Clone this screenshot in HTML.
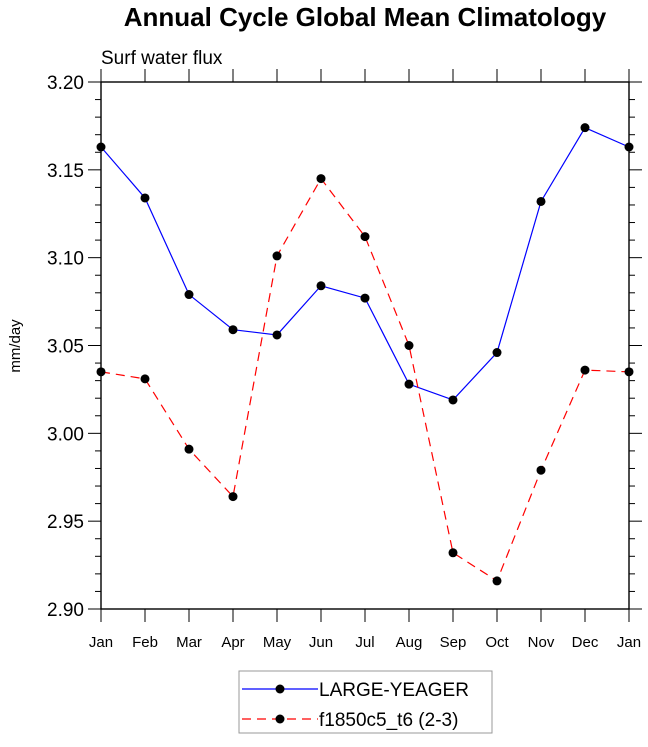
<!DOCTYPE html>
<html><head><meta charset="utf-8"><style>
body{margin:0;background:#fff;}
svg{display:block;font-family:"Liberation Sans",sans-serif;}
</style></head><body>
<svg id="chart" width="648" height="747" viewBox="0 0 648 747">
<text x="365" y="26" font-size="26" font-weight="bold" text-anchor="middle">Annual Cycle Global Mean Climatology</text>
<text x="101" y="64" font-size="19">Surf water flux</text>
<text transform="translate(20,346) rotate(-90)" font-size="15" text-anchor="middle">mm/day</text>
<g id="axes"></g>
<g id="series"></g>
<g>
<rect x="239" y="671" width="253" height="62" fill="none" stroke="#999" stroke-width="1"/>
<line x1="242" y1="689" x2="318" y2="689" stroke="#0000ff" stroke-width="1.2"/>
<circle cx="280" cy="689" r="4.5" fill="#000"/>
<text x="319" y="696" font-size="19">LARGE-YEAGER</text>
<line x1="242" y1="719" x2="318" y2="719" stroke="#ff0000" stroke-width="1.2" stroke-dasharray="9,6"/>
<circle cx="280" cy="719" r="4.5" fill="#000"/>
<text x="319" y="726" font-size="19">f1850c5_t6 (2-3)</text>
</g>
</svg>
<script>
const months = ["Jan","Feb","Mar","Apr","May","Jun","Jul","Aug","Sep","Oct","Nov","Dec","Jan"];
const largeYeager = [3.163,3.134,3.079,3.059,3.056,3.084,3.077,3.028,3.019,3.046,3.132,3.174,3.163];
const f1850 = [3.035,3.031,2.991,2.964,3.101,3.145,3.112,3.050,2.932,2.916,2.979,3.036,3.035];
const yTicks = [2.90,2.95,3.00,3.05,3.10,3.15,3.20];
const yMin = 2.90, yMax = 3.20;
const L=101, R=629, T=82, B=609;
const NS="http://www.w3.org/2000/svg";
const xs = i => L + (R-L)*i/(months.length-1);
const ys = v => B - (B-T)*(v-yMin)/(yMax-yMin);
function mk(tag, attrs, parent){const e=document.createElementNS(NS,tag);for(const k in attrs)e.setAttribute(k,attrs[k]);parent.appendChild(e);return e;}
const ax=document.getElementById('axes');
const frame=mk('rect',{x:L,y:T,width:R-L,height:B-T,fill:'none',stroke:'#000','stroke-width':1.4},ax);


for(let i=0;i<months.length;i++){
  const x=xs(i);
  const t1=mk('line',{x1:x,y1:B,x2:x,y2:B+13,stroke:'#000'},ax);
  
  
  const t2=mk('line',{x1:x,y1:T,x2:x,y2:T-13,stroke:'#000'},ax);
  
  
  const lb=mk('text',{x:x,y:B+38,'font-size':15,'text-anchor':'middle'},ax);
  lb.textContent=months[i];
  
  
}
for(let k=0;k<=30;k++){
  const v=yMin+k*0.01, y=ys(v), major=k%5===0, len=major?13:6;
  const a=mk('line',{x1:L,y1:y,x2:L-len,y2:y,stroke:'#000'},ax);
  
  
  const b=mk('line',{x1:R,y1:y,x2:R+len,y2:y,stroke:'#000'},ax);
  
  
}
yTicks.forEach(v=>{
  const lb=mk('text',{x:L-17,y:ys(v)+7,'font-size':19,'text-anchor':'end'},ax);
  lb.textContent=v.toFixed(2);
  
  
});
const sg=document.getElementById('series');
function drawSeries(vals,color,dash,name){
  const pts=vals.map((v,i)=>xs(i)+','+ys(v)).join(' ');
  const pl=mk('polyline',{points:pts,fill:'none',stroke:color,'stroke-width':1.2},sg);
  if(dash)pl.setAttribute('stroke-dasharray',dash);
  
  
  vals.forEach((v,i)=>{
    const c=mk('circle',{cx:xs(i),cy:ys(v),r:4.5,fill:'#000'},sg);
    
    
  });
}
drawSeries(largeYeager,'#0000ff',null,'large-yeager');
drawSeries(f1850,'#ff0000','9,6','f1850c5');
</script>
</body></html>
